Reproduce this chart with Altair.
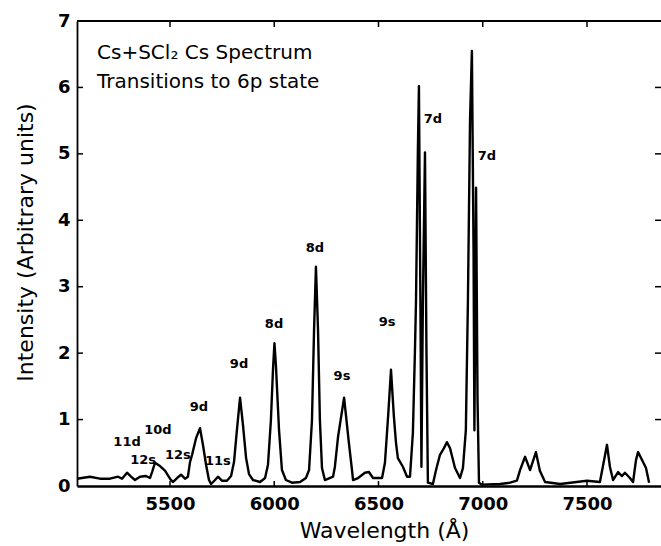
import altair as alt
import pandas as pd

# ---- data ----
wavelength = [5054, 5116, 5164, 5212, 5251, 5270, 5294, 5313, 5332, 5356, 5385, 5404,
              5414, 5428, 5452, 5476, 5500, 5514, 5534, 5553, 5572, 5586, 5596, 5606,
              5625, 5644, 5658, 5673, 5687, 5697, 5716, 5730, 5749, 5773, 5793, 5807,
              5821, 5836, 5850, 5865, 5879, 5898, 5932, 5956, 5970, 5984, 5994, 6001,
              6008, 6023, 6037, 6056, 6085, 6124, 6152, 6167, 6181, 6191, 6200, 6210,
              6219, 6229, 6243, 6282, 6291, 6306, 6335, 6358, 6373, 6378, 6402, 6435,
              6454, 6474, 6517, 6531, 6546, 6560, 6574, 6584, 6593, 6617, 6637, 6651,
              6665, 6675, 6680, 6689, 6694, 6701, 6706, 6713, 6723, 6730, 6737, 6761,
              6776, 6795, 6814, 6828, 6843, 6867, 6891, 6905, 6919, 6929, 6939, 6948,
              6956, 6960, 6968, 6975, 6982, 6996, 7083, 7131, 7164, 7179, 7203, 7227,
              7255, 7274, 7299, 7371, 7500, 7562, 7576, 7596, 7610, 7625, 7649, 7668,
              7682, 7706, 7721, 7735, 7745, 7769, 7783, 7798]
intensity = [0.11, 0.14, 0.11, 0.11, 0.14, 0.11, 0.20, 0.14, 0.09, 0.14, 0.15, 0.12,
             0.21, 0.35, 0.30, 0.23, 0.11, 0.06, 0.12, 0.17, 0.11, 0.14, 0.36, 0.47,
             0.72, 0.87, 0.62, 0.32, 0.09, 0.03, 0.09, 0.14, 0.08, 0.08, 0.15, 0.36,
             0.84, 1.33, 0.92, 0.42, 0.18, 0.09, 0.06, 0.12, 0.32, 0.99, 1.75, 2.15,
             1.82, 0.84, 0.24, 0.09, 0.05, 0.06, 0.12, 0.24, 0.99, 2.35, 3.30, 2.35,
             0.99, 0.27, 0.09, 0.14, 0.29, 0.74, 1.33, 0.65, 0.24, 0.09, 0.12, 0.20,
             0.21, 0.12, 0.12, 0.35, 1.04, 1.75, 1.04, 0.65, 0.42, 0.29, 0.14, 0.14,
             0.80, 2.05, 2.80, 5.06, 6.02, 2.80, 0.29, 2.80, 5.02, 2.05, 0.05, 0.03,
             0.24, 0.47, 0.57, 0.66, 0.57, 0.27, 0.12, 0.27, 0.84, 2.80, 5.50, 6.55,
             3.55, 0.84, 4.49, 1.30, 0.05, 0.02, 0.03, 0.05, 0.08, 0.24, 0.44, 0.24,
             0.51, 0.23, 0.06, 0.03, 0.08, 0.06, 0.29, 0.62, 0.29, 0.09, 0.21, 0.15,
             0.20, 0.12, 0.06, 0.39, 0.51, 0.36, 0.27, 0.05]

label_text = ["11d", "12s", "10d", "12s", "9d", "11s", "9d", "8d", "8d", "9s", "9s", "7d", "7d"]
label_wl = [5294, 5371, 5442, 5538, 5639, 5730, 5831, 5999, 6195, 6325, 6541, 6761, 7020]
label_int = [0.66, 0.39, 0.84, 0.47, 1.19, 0.38, 1.84, 2.44, 3.58, 1.66, 2.47, 5.53, 4.97]

header_text = ["Cs+SCl\u2082  Cs Spectrum", "Transitions to 6p state"]
header_wl = [5150, 5150]
header_int = [6.52, 6.08]

x_ticks = [5500, 6000, 6500, 7000, 7500]
y_ticks = [0, 1, 2, 3, 4, 5, 6, 7]

W, H = 584, 465
FONT = "DejaVu Sans"

xscale = alt.Scale(domain=[5054, 7855], nice=False, zero=False)
yscale = alt.Scale(domain=[0, 7], nice=False, zero=True)

xaxis = alt.Axis(title="Wavelength (Å)", values=x_ticks, format="d",
                 titleX=307, titleY=51, titleBaseline="alphabetic", titleAlign="center",
                 domainWidth=2.5, labelPadding=9)
yaxis = alt.Axis(title="Intensity (Arbitrary units)", values=y_ticks, format="d",
                 titleX=-45, titleY=221, titleAngle=270,
                 titleBaseline="alphabetic", titleAlign="center",
                 domainWidth=1.8, labelPadding=7)

spec = pd.DataFrame({"wl": wavelength, "I": intensity})
labels = pd.DataFrame({"wl": label_wl, "I": label_int, "t": label_text})
header = pd.DataFrame({"wl": header_wl, "I": header_int, "t": header_text})
xt = pd.DataFrame({"wl": x_ticks})
yt = pd.DataFrame({"I": y_ticks[1:-1]})
one = pd.DataFrame({"a": [0]})

X = alt.X("wl:Q", scale=xscale, axis=xaxis)
Y = alt.Y("I:Q", scale=yscale, axis=yaxis)

line = alt.Chart(spec).mark_line(color="black", strokeWidth=2.4, strokeJoin="round").encode(
    x=X, y=Y)

text_labels = alt.Chart(labels).mark_text(
    font=FONT, fontSize=13, fontWeight="bold", color="black", align="center", baseline="middle"
).encode(x=X, y=Y, text="t:N")

head = alt.Chart(header).mark_text(
    font=FONT, fontSize=20, color="black", align="left", baseline="middle"
).encode(x=X, y=Y, text="t:N")

top_ticks = alt.Chart(xt).mark_rule(color="black", strokeWidth=1.5).encode(
    x=X, y=alt.value(0), y2=alt.value(6))
bottom_ticks = alt.Chart(xt).mark_rule(color="black", strokeWidth=1.5).encode(
    x=X, y=alt.value(H - 5), y2=alt.value(H))
left_ticks = alt.Chart(yt).mark_rule(color="black", strokeWidth=1.5).encode(
    y=Y, x=alt.value(0), x2=alt.value(6))
right_ticks = alt.Chart(yt).mark_rule(color="black", strokeWidth=1.5).encode(
    y=Y, x=alt.value(W - 6), x2=alt.value(W))
top_line = alt.Chart(one).mark_rule(color="black", strokeWidth=2).encode(
    x=alt.value(0), x2=alt.value(W), y=alt.value(0))

chart = alt.layer(
    line, text_labels, head, top_ticks, bottom_ticks, left_ticks, right_ticks, top_line
).properties(
    width=W, height=H,
    autosize=alt.AutoSizeParams(type="none"),
    padding={"left": 77, "top": 21, "right": 0, "bottom": 60},
    background="white",
).configure_view(
    stroke=None
).configure_axis(
    grid=False, ticks=False, domain=True, domainColor="black",
    labelColor="black", titleColor="black",
    labelFont=FONT, titleFont=FONT, labelFontSize=18, labelFontWeight="bold",
    titleFontSize=22, titleFontWeight="normal",
)

chart.save("out.html", embed_options={"renderer": "svg", "actions": False})
